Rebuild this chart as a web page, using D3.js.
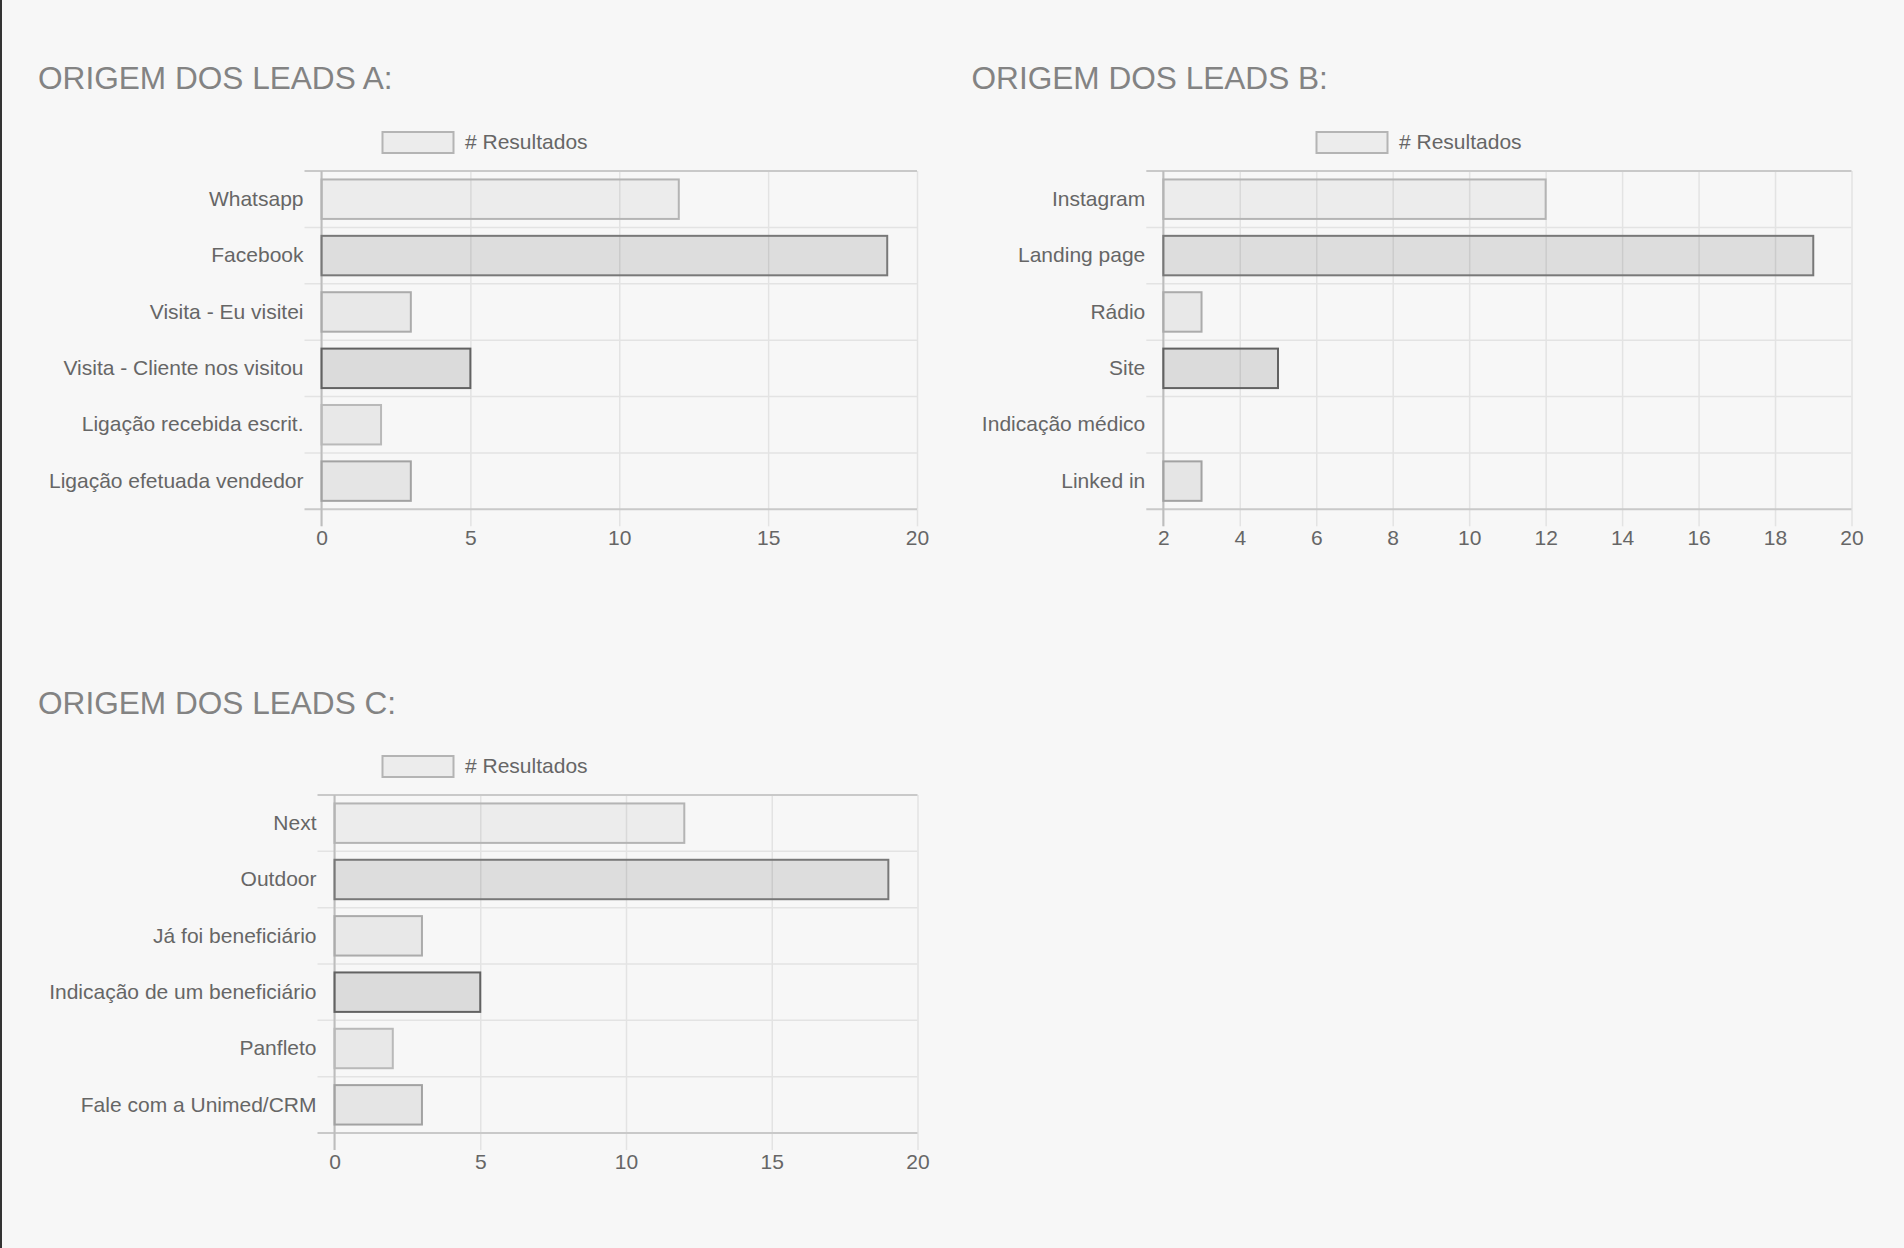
<!DOCTYPE html>
<html><head><meta charset="utf-8">
<script src="https://cdn.jsdelivr.net/npm/d3@7"></script>
<style>
html,body{margin:0;padding:0;background:#f7f7f7;}
svg{display:block;font-family:"Liberation Sans",Arial,Helvetica,sans-serif;}
</style>
</head><body>
<svg id="c" width="1904" height="1248"></svg>
<script>
// ---- data ----
const titles = ["ORIGEM DOS LEADS A:", "ORIGEM DOS LEADS B:", "ORIGEM DOS LEADS C:"];
const seriesName = "# Resultados";

const categoriesA = ["Whatsapp", "Facebook", "Visita - Eu visitei", "Visita - Cliente nos visitou", "Ligação recebida escrit.", "Ligação efetuada vendedor"];
const valuesA = [12, 19, 3, 5, 2, 3];

const categoriesB = ["Instagram", "Landing page", "Rádio", "Site", "Indicação médico", "Linked in"];
const valuesB = [12, 19, 3, 5, 2, 3];

const categoriesC = ["Next", "Outdoor", "Já foi beneficiário", "Indicação de um beneficiário", "Panfleto", "Fale com a Unimed/CRM"];
const valuesC = [12, 19, 3, 5, 2, 3];

const ticksA = [0, 5, 10, 15, 20];
const ticksB = [2, 4, 6, 8, 10, 12, 14, 16, 18, 20];
const ticksC = [0, 5, 10, 15, 20];

// ---- styles ----
const barFill = ["rgba(0,0,0,0.045)", "rgba(0,0,0,0.10)", "rgba(0,0,0,0.06)", "rgba(0,0,0,0.115)", "rgba(0,0,0,0.06)", "rgba(0,0,0,0.07)"];
const barStroke = ["#b4b4b4", "#787878", "#ababab", "#626262", "#b9b9b9", "#a2a2a2"];

// ---- layout ----
const panels = [
  {title: titles[0], cats: categoriesA, vals: valuesA, ticks: ticksA,
   titleX: 38, titleY: 89, legendX: 382.5, legendY: 132, x0: 321.5, x1: 917, y0: 171, y1: 509.3},
  {title: titles[1], cats: categoriesB, vals: valuesB, ticks: ticksB,
   titleX: 971.5, titleY: 89, legendX: 1316.5, legendY: 132, x0: 1163.3, x1: 1851.5, y0: 171, y1: 509.3},
  {title: titles[2], cats: categoriesC, vals: valuesC, ticks: ticksC,
   titleX: 38, titleY: 714, legendX: 382.5, legendY: 756, x0: 334.5, x1: 917.5, y0: 795, y1: 1133}
];

const svg = d3.select("#c");
svg.append("rect").attr("x", 0).attr("y", 0).attr("width", 1904).attr("height", 1248).attr("fill", "#f7f7f7");
svg.append("rect").attr("x", 0).attr("y", 0).attr("width", 2).attr("height", 1248).attr("fill", "#333");

const gridColor = "#e3e3e3";
const tickLen = 17;

panels.forEach(p => {
  const g = svg.append("g");
  // title
  g.append("text").attr("x", p.titleX).attr("y", p.titleY)
    .attr("font-size", 31.6).attr("fill", "#838383").text(p.title);
  // legend
  g.append("rect").attr("x", p.legendX).attr("y", p.legendY).attr("width", 71).attr("height", 21)
    .attr("fill", barFill[0]).attr("stroke", barStroke[0]).attr("stroke-width", 2);
  g.append("text").attr("x", p.legendX + 82.5).attr("y", p.legendY + 16.5)
    .attr("font-size", 21).attr("fill", "#666").text(seriesName);

  const x = d3.scaleLinear().domain([p.ticks[0], p.ticks[p.ticks.length - 1]]).range([p.x0, p.x1]);
  const y = d3.scaleBand().domain(p.cats).range([p.y0, p.y1]).padding(0);

  // vertical grid lines (x ticks)
  const xAxis = d3.axisBottom(x).tickValues(p.ticks).tickSize(-(p.y1 - p.y0)).tickSizeOuter(0).tickPadding(0);
  const gx = g.append("g").attr("transform", `translate(0,${p.y1})`).call(xAxis);
  gx.select(".domain").remove();
  gx.selectAll(".tick line").attr("stroke", gridColor).attr("stroke-width", 1.5);
  gx.selectAll(".tick").append("line").attr("y1", 0).attr("y2", tickLen)
    .attr("stroke", gridColor).attr("stroke-width", 1.5);
  gx.selectAll(".tick text").attr("y", 36).attr("dy", null)
    .attr("font-size", 21).attr("fill", "#666").attr("font-family", null);

  // horizontal grid lines at band boundaries
  const bounds = p.cats.map(c => y(c)).concat([p.y1]);
  g.append("g").selectAll("line").data(bounds).join("line")
    .attr("x1", p.x0 - tickLen).attr("x2", p.x1)
    .attr("y1", d => d).attr("y2", d => d)
    .attr("stroke", (d, i) => (i === 0 || i === bounds.length - 1) ? "#c9c9c9" : gridColor)
    .attr("stroke-width", (d, i) => (i === 0 || i === bounds.length - 1) ? 2 : 1.5);

  // y axis line
  g.append("line").attr("x1", p.x0).attr("x2", p.x0).attr("y1", p.y0).attr("y2", p.y1 + tickLen)
    .attr("stroke", "#bdbdbd").attr("stroke-width", 2);

  // y labels
  const yAxis = d3.axisLeft(y).tickSize(0).tickPadding(18);
  const gy = g.append("g").attr("transform", `translate(${p.x0},0)`).call(yAxis);
  gy.select(".domain").remove();
  gy.selectAll(".tick text").attr("font-size", 21).attr("fill", "#666")
    .attr("font-family", null).attr("dy", "0.32em");

  // bars
  const bh = y.bandwidth() * 0.7;
  g.append("g").selectAll("rect").data(p.cats.map((c, i) => ({c, v: p.vals[i], i}))).join("rect")
    .filter(d => x(d.v) - x(p.ticks[0]) > 0)
    .attr("x", x(p.ticks[0]))
    .attr("y", d => y(d.c) + (y.bandwidth() - bh) / 2)
    .attr("width", d => x(d.v) - x(p.ticks[0]))
    .attr("height", bh)
    .attr("fill", d => barFill[d.i])
    .attr("stroke", d => barStroke[d.i])
    .attr("stroke-width", 2);
});
</script>
</body></html>
